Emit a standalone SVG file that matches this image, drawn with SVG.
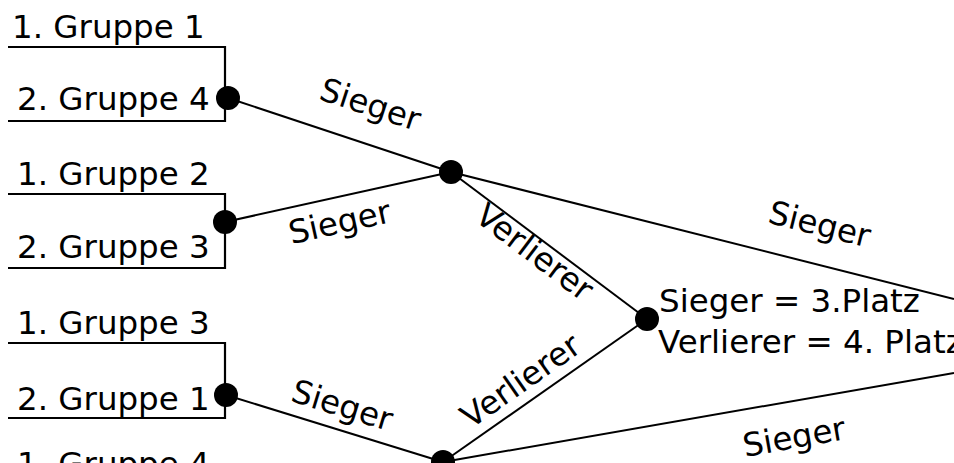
<svg xmlns="http://www.w3.org/2000/svg" width="954" height="463" viewBox="0 0 954 463">
<style>
text{font-family:"DejaVu Sans","Liberation Sans",sans-serif;font-size:32.5px;fill:#000}
.lbl{text-anchor:middle}
.br{fill:none;stroke:#000;stroke-width:2.2}
.ln{stroke:#000;stroke-width:2}
.dot{fill:#000}
</style>
<rect width="954" height="463" fill="#fff"/>
<g id="connectors">
<line class="ln" x1="228" y1="98" x2="451" y2="172"/>
<line class="ln" x1="225" y1="222" x2="451" y2="172"/>
<line class="ln" x1="226" y1="395" x2="443" y2="462"/>
<line class="ln" x1="451" y1="172" x2="647" y2="319"/>
<line class="ln" x1="443" y1="462" x2="647" y2="319"/>
<line class="ln" x1="451" y1="172" x2="954" y2="299"/>
<line class="ln" x1="443" y1="462" x2="954" y2="373"/>
<text class="lbl" transform="translate(367,115) rotate(18)">Sieger</text>
<text class="lbl" transform="translate(342,233) rotate(-12.5)">Sieger</text>
<text class="lbl" transform="translate(339,416) rotate(17)">Sieger</text>
<text class="lbl" transform="translate(528,261) rotate(37)">Verlierer</text>
<text class="lbl" transform="translate(527,390) rotate(-35)">Verlierer</text>
<text class="lbl" transform="translate(817,235) rotate(14)">Sieger</text>
<text class="lbl" transform="translate(796,448) rotate(-10)">Sieger</text>
</g>
<g id="bracket1">
<text x="12" y="38">1. Gruppe 1</text>
<text x="17" y="110">2. Gruppe 4</text>
<polyline class="br" points="8,47 225,47 225,121 8,121"/>
<circle class="dot" cx="228" cy="98" r="12"/>
</g>
<g id="bracket2">
<text x="17" y="185">1. Gruppe 2</text>
<text x="17" y="258">2. Gruppe 3</text>
<polyline class="br" points="8,194 225,194 225,268 8,268"/>
<circle class="dot" cx="225" cy="222" r="12"/>
</g>
<g id="bracket3">
<text x="17" y="334">1. Gruppe 3</text>
<text x="17" y="410">2. Gruppe 1</text>
<polyline class="br" points="8,343 225,343 225,418 8,418"/>
<circle class="dot" cx="226" cy="395" r="12"/>
</g>
<g id="bracket4">
<text x="17" y="475">1. Gruppe 4</text>
</g>
<g id="semi1"><circle class="dot" cx="451" cy="172" r="12"/></g>
<g id="semi2"><circle class="dot" cx="443" cy="462" r="12"/></g>
<g id="third">
<circle class="dot" cx="647" cy="319" r="12"/>
<text x="659" y="312">Sieger = 3.Platz</text>
<text x="658" y="353">Verlierer = 4. Platz</text>
</g>
</svg>
